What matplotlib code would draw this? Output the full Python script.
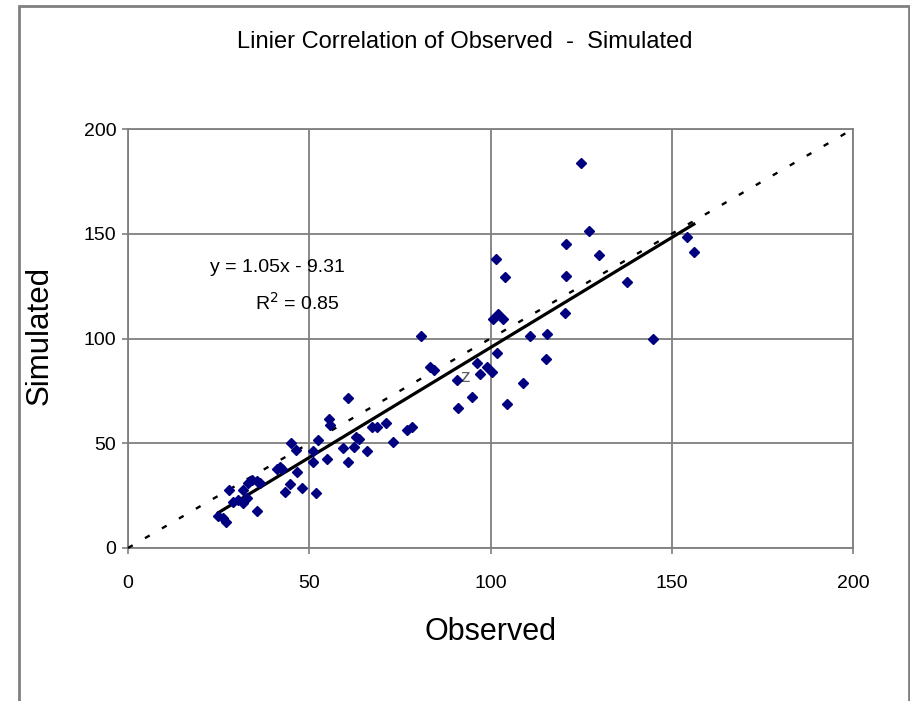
import matplotlib
matplotlib.use("Agg")
import matplotlib.pyplot as plt
from matplotlib.patches import Rectangle

plt.rcParams['font.family'] = ['Liberation Sans', 'DejaVu Sans']

width = 910
height = 701
dpi = 100

# values
observed = [
    125.0, 127.2, 120.8, 130.0, 101.5, 104.0, 120.8, 137.6, 154.1, 156.1,
    120.6, 100.6, 102.2, 103.5, 110.9, 115.7, 144.7, 80.8, 101.9, 83.2,
    96.4, 98.9, 100.5, 97.1, 90.8, 108.9, 94.8, 91.1, 104.5, 115.2,
    78.3, 76.9, 60.8, 55.5, 55.7, 67.2, 68.8, 71.2, 62.9, 63.8,
    73.2, 45.0, 46.4, 52.5, 51.1, 59.2, 62.3, 66.0, 54.8, 60.8,
    51.1, 41.9, 42.4, 46.5, 44.7, 43.2, 48.0, 51.9, 34.1, 35.5,
    36.4, 33.2, 31.8, 27.9, 29.0, 30.4, 31.8, 32.7, 35.6, 24.9,
    26.3, 27.0, 84.5, 41.1,
]
simulated = [
    183.9, 151.5, 145.0, 139.9, 137.8, 129.2, 129.8, 127.0, 148.6, 141.4,
    112.3, 109.2, 111.5, 109.2, 101.2, 102.0, 99.6, 101.4, 92.9, 86.3,
    88.2, 86.2, 83.9, 83.1, 80.2, 78.9, 72.2, 67.0, 68.6, 90.1,
    57.6, 56.5, 71.4, 61.4, 58.7, 57.9, 57.9, 59.8, 53.1, 51.9,
    50.7, 50.0, 46.8, 51.6, 46.4, 47.6, 48.4, 46.4, 42.5, 41.2,
    41.2, 38.8, 37.8, 36.4, 30.7, 26.7, 28.5, 26.3, 32.5, 32.1,
    30.9, 30.9, 27.7, 27.7, 22.1, 22.9, 21.3, 23.7, 17.5, 15.3,
    14.2, 12.6, 84.8, 37.5,
]
slope = 1.05
intercept = -9.31
r2 = 0.85
ticks = [0, 50, 100, 150, 200]

fig = plt.figure(figsize=(width/dpi, height/dpi), dpi=dpi)
ax = fig.add_axes([128/width, 1 - 548/height, 725/width, 419/height])

grid_color = '#7f7f7f'
ax.set_xlim(0, 200)
ax.set_ylim(0, 200)
ax.set_xticks(ticks)
ax.set_yticks(ticks)
ax.grid(True, color=grid_color, linewidth=1.3)
ax.set_axisbelow(True)
for s in ax.spines.values():
    s.set_color(grid_color)
    s.set_linewidth(1.3)
ax.tick_params(direction='out', length=4.5, width=1.2, color=grid_color,
               labelsize=14, labelcolor='black')
ax.tick_params(axis='x', pad=15)
ax.tick_params(axis='y', pad=4)

# 1:1 line
ax.plot([0, 200], [0, 200], color='black', linewidth=1.7,
        linestyle=(0, (2.3, 6)), clip_on=False, zorder=3)

# trend line
x0, x1 = min(observed), max(observed)
ax.plot([x0, x1], [slope*x0 + intercept, slope*x1 + intercept],
        color='black', linewidth=2.3, zorder=4)

ax.plot(observed, simulated, linestyle='none', marker='D', markersize=4.9,
        color='#000080', markeredgecolor='#000080', zorder=5)

ax.text(41.1, 133.7, 'y = 1.05x - 9.31', ha='center', va='center', fontsize=14)
ax.text(46.6, 117.0, 'R$^2$ = 0.85', ha='center', va='center', fontsize=14)
ax.text(93.0, 81.6, 'z', ha='center', va='center', fontsize=14, color='#606060')

fig.text(465/width, 1 - 42/height, 'Linier Correlation of Observed  -  Simulated',
         ha='center', va='center', fontsize=17)
fig.text(490/width, 1 - 632/height, 'Observed', ha='center', va='center', fontsize=22)
fig.text(40/width, 1 - 335/height, 'Simulated', ha='center', va='center',
         fontsize=22.5, rotation=90)

fig.patches.append(Rectangle((19/width, -0.01), 890/width, 1.01 - 6/height,
                             transform=fig.transFigure, fill=False,
                             edgecolor='#808080', linewidth=2))

fig.savefig('out.png', dpi=dpi)
